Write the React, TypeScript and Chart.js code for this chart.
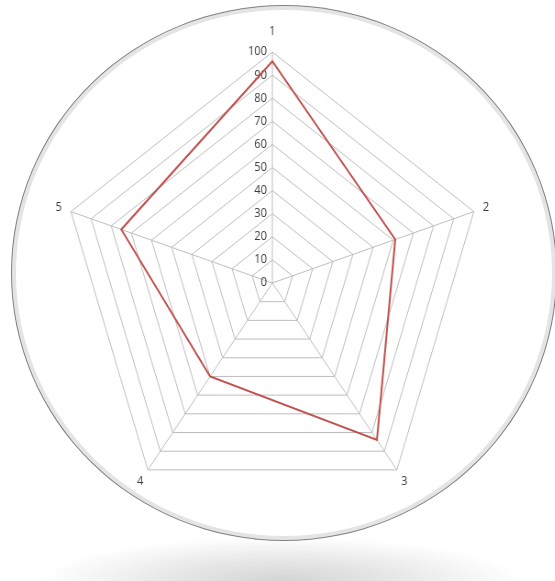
import React, { useEffect, useRef } from "react";
import { Chart, registerables } from "chart.js";

Chart.register(...registerables);

const CATEGORIES = ["1", "2", "3", "4", "5"];
const SERIES_VALUES = [96, 61, 84, 50, 75];
const TICK_VALUES = [0, 10, 20, 30, 40, 50, 60, 70, 80, 90, 100];

const SCALE_X = 0.917;
const CW = 605;
const CH = 581;
const FONT = '12px "Open Sans", "Noto Sans", sans-serif';
const TEXT_COLOR = "#3a3a3a";

const labelPlugin = {
  id: "excelLabels",
  beforeDatasetsDraw(chart: any) {
    const scale = chart.scales.r;
    const ctx = chart.ctx;
    ctx.save();
    ctx.font = FONT;
    ctx.fillStyle = TEXT_COLOR;
    ctx.textAlign = "right";
    ctx.textBaseline = "middle";
    scale.ticks.forEach((t: any) => {
      const d = scale.getDistanceFromCenterForValue(t.value);
      const p = scale.getPointPosition(0, d);
      ctx.fillText(String(t.label ?? t.value), p.x - 6, p.y);
    });
    ctx.textAlign = "center";
    (chart.data.labels as string[]).forEach((lbl, i) => {
      const extra = i === 0 ? 20 : 14;
      const p = scale.getPointPosition(i, scale.drawingArea + extra);
      ctx.fillText(lbl, p.x, p.y);
    });
    ctx.restore();
  },
};

export default function App() {
  const ref = useRef<HTMLCanvasElement | null>(null);
  useEffect(() => {
    if (!ref.current) return;
    const chart = new Chart(ref.current, {
      type: "radar",
      data: {
        labels: CATEGORIES,
        datasets: [
          {
            data: SERIES_VALUES,
            borderColor: "#C0504D",
            borderWidth: 2,
            backgroundColor: "transparent",
            fill: false,
            pointRadius: 0,
            pointHoverRadius: 0,
            tension: 0,
          },
        ],
      },
      options: {
        responsive: false,
        animation: false,
        events: [],
        layout: { padding: { left: 66, right: 77, top: 52, bottom: 67 } },
        plugins: { legend: { display: false }, tooltip: { enabled: false } },
        scales: {
          r: {
            min: 0,
            max: 100,
            afterBuildTicks: (s: any) => {
              s.ticks = TICK_VALUES.map((v) => ({ value: v }));
            },
            ticks: { display: false, stepSize: 10 },
            pointLabels: { display: false },
            grid: { color: "#bdbdbd", lineWidth: 1 },
            angleLines: { color: "#bdbdbd", lineWidth: 1 },
          },
        },
      },
      plugins: [labelPlugin],
    });
    return () => chart.destroy();
  }, []);

  return (
    <div
      style={{
        position: "absolute",
        left: 0,
        top: 0,
        width: 555,
        height: 581,
        overflow: "hidden",
        background: "#ffffff",
      }}
    >
      <div
        style={{
          position: "absolute",
          left: 0,
          top: 536,
          width: 555,
          height: 45,
          background:
            "radial-gradient(ellipse 240px 44px at 282px 100%, #d4d4d4 0%, #e6e6e6 45%, rgba(255,255,255,0) 100%)",
        }}
      />
      <div
        style={{
          position: "absolute",
          left: 12,
          top: 6,
          width: 544,
          height: 534,
          boxSizing: "border-box",
          borderRadius: "50%",
          border: "4px solid #e4e4e4",
          boxShadow: "0 0 0 1px #808080",
          background: "#ffffff",
        }}
      />
      <div
        style={{
          position: "absolute",
          left: 0,
          top: 0,
          width: CW,
          height: CH,
          transform: `scaleX(${SCALE_X})`,
          transformOrigin: "0 0",
        }}
      >
        <canvas ref={ref} width={CW} height={CH} />
      </div>
    </div>
  );
}
